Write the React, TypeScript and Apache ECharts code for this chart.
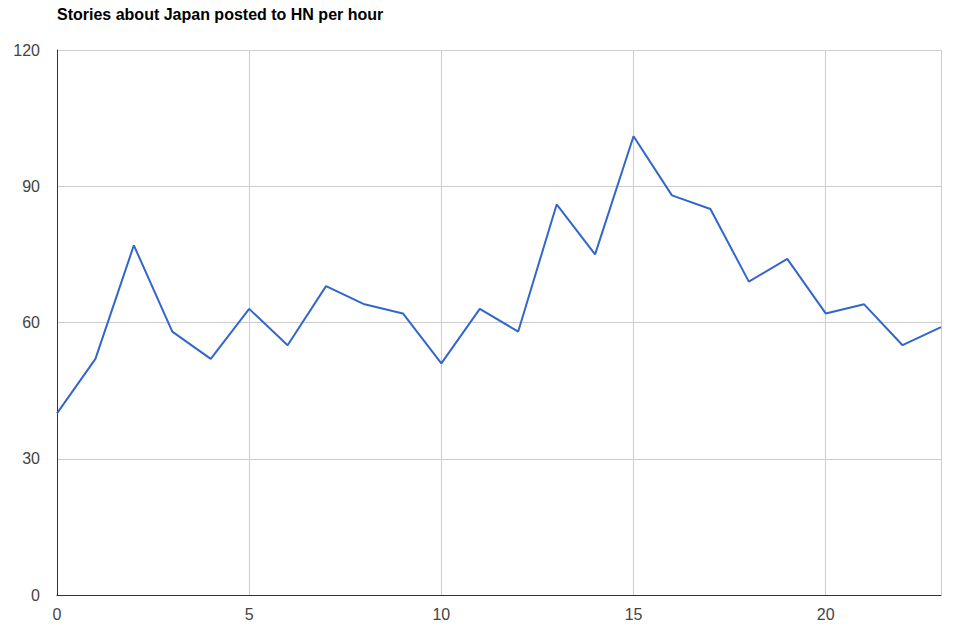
import React, { useEffect, useRef } from "react";
import * as echarts from "echarts";

const title = "Stories about Japan posted to HN per hour";
const hours = [0,1,2,3,4,5,6,7,8,9,10,11,12,13,14,15,16,17,18,19,20,21,22,23];
const stories = [40,52,77,58,52,63,55,68,64,62,51,63,58,86,75,101,88,85,69,74,62,64,55,59];

export default function App() {
  const ref = useRef<HTMLDivElement>(null);
  useEffect(() => {
    if (!ref.current) return;
    const chart = echarts.init(ref.current, undefined, { renderer: "svg" });
    chart.setOption({
      animation: false,
      title: {
        text: title,
        left: 52,
        top: 1,
        textStyle: { fontFamily: "Liberation Sans, Arial", fontSize: 16, fontWeight: "bold", color: "#000" },
      },
      grid: { left: 57, right: 16, top: 50, bottom: 36 },
      xAxis: {
        type: "value",
        min: 0,
        max: 23,
        interval: 5,
        axisLine: { show: true, lineStyle: { color: "#333", width: 1 } },
        axisTick: { show: false },
        splitLine: { show: true, lineStyle: { color: "#ccc", width: 1 } },
        axisLabel: {
          color: "#444",
          fontSize: 16,
          fontFamily: "Liberation Sans, Arial",
          margin: 11,
          showMaxLabel: false,
          formatter: (v: number) => (v % 5 === 0 ? String(v) : ""),
        },
      },
      yAxis: {
        type: "value",
        min: 0,
        max: 120,
        interval: 30,
        axisLine: { show: true, lineStyle: { color: "#333", width: 1 } },
        axisTick: { show: false },
        splitLine: { show: true, lineStyle: { color: "#ccc", width: 1 } },
        axisLabel: {
          color: "#444",
          fontSize: 16,
          fontFamily: "Liberation Sans, Arial",
          margin: 17,
        },
      },
      series: [
        {
          type: "line",
          data: hours.map((h, i) => [h, stories[i]]),
          showSymbol: false,
          lineStyle: { color: "#3366cc", width: 2 },
          itemStyle: { color: "#3366cc" },
        },
      ],
    });
    return () => chart.dispose();
  }, []);
  return <div ref={ref} style={{ width: 957, height: 631, position: "absolute", left: 0, top: 0 }} />;
}
